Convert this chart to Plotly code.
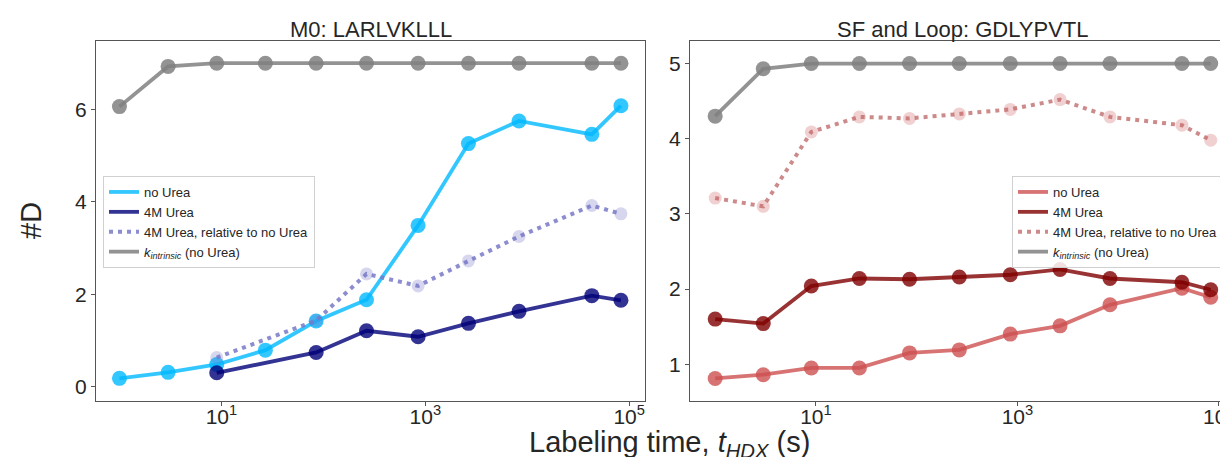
import plotly.graph_objects as go

# Labeling times (s)
times = [1, 3, 9, 27, 85, 265, 850, 2650, 8300, 43000, 83000]
times_urea_left = [9, 85, 265, 850, 2650, 8300, 43000, 83000]

# Left panel: M0: LARLVKLLL
left_no_urea = [0.18, 0.31, 0.48, 0.79, 1.42, 1.88, 3.49, 5.26, 5.75, 5.46, 6.08]
left_urea = [0.30, 0.74, 1.21, 1.08, 1.37, 1.63, 1.97, 1.87]
left_rel = [0.63, 1.43, 2.44, 2.18, 2.72, 3.25, 3.92, 3.74]
left_kint = [6.06, 6.93, 7.0, 7.0, 7.0, 7.0, 7.0, 7.0, 7.0, 7.0, 7.0]

# Right panel: SF and Loop: GDLYPVTL
right_no_urea = [0.81, 0.86, 0.95, 0.95, 1.15, 1.19, 1.40, 1.51, 1.79, 2.01, 1.89]
right_urea = [1.60, 1.54, 2.04, 2.14, 2.13, 2.16, 2.19, 2.26, 2.14, 2.09, 1.99]
right_rel = [3.21, 3.10, 4.09, 4.29, 4.27, 4.33, 4.39, 4.52, 4.29, 4.18, 3.98]
right_kint = [4.30, 4.93, 5.0, 5.0, 5.0, 5.0, 5.0, 5.0, 5.0, 5.0, 5.0]

titles = ["M0: LARLVKLLL", "SF and Loop: GDLYPVTL"]
legend_names = ["no Urea", "4M Urea", "4M Urea, relative to no Urea",
                "<i>k</i><sub><i>intrinsic</i></sub> (no Urea)"]

FONT = "Liberation Sans, Arial, sans-serif"
TXT = "#262626"
fig = go.Figure()


def add_panel(xa, ya, leg, series, colors):
    (x_a, y_a), (x_b, y_b), (x_c, y_c), (x_d, y_d) = series
    c_no, c_urea, c_rel_line, c_rel_mark, c_k = colors
    specs = [
        (x_a, y_a, c_no, 15, dict(color=c_no, width=3.8)),
        (x_b, y_b, c_urea, 15, dict(color=c_urea, width=3.8)),
        (x_c, y_c, c_rel_mark, 13, dict(color=c_rel_line, width=4, dash="4px,5px")),
        (x_d, y_d, c_k, 15, dict(color=c_k, width=3.8)),
    ]
    for name, (xs, ys, mc, ms, ln) in zip(legend_names, specs):
        fig.add_trace(go.Scatter(x=xs, y=ys, mode="lines+markers", name=name,
                                 line=ln, marker=dict(color=mc, size=ms),
                                 xaxis=xa, yaxis=ya, showlegend=False))
        # legend-only entry (line sample only, like the reference)
        fig.add_trace(go.Scatter(x=[None], y=[None], mode="lines", name=name,
                                 line=ln, xaxis=xa, yaxis=ya, legend=leg,
                                 showlegend=True))


add_panel("x", "y", "legend",
          [(times, left_no_urea), (times_urea_left, left_urea),
           (times_urea_left, left_rel), (times, left_kint)],
          ["rgba(0,185,255,0.8)", "rgba(0,0,120,0.8)", "rgba(120,120,200,0.85)",
           "rgba(120,120,200,0.3)", "rgba(128,128,128,0.85)"])
add_panel("x2", "y2", "legend2",
          [(times, right_no_urea), (times, right_urea),
           (times, right_rel), (times, right_kint)],
          ["rgba(205,80,80,0.8)", "rgba(128,0,0,0.8)", "rgba(200,125,125,0.9)",
           "rgba(205,100,100,0.3)", "rgba(128,128,128,0.85)"])

axis_common = dict(showline=True, linecolor="#555555", linewidth=1.2, mirror=True,
                   ticks="outside", ticklen=4, tickcolor="#555555", showgrid=False,
                   zeroline=False, automargin=False,
                   tickfont=dict(family=FONT, size=21, color=TXT))

xt = [10, 1000, 100000]
xtt = ["10<sup>1</sup>", "10<sup>3</sup>", "10<sup>5</sup>"]

L, R, T, B = 88, 0, 33, 64
PW, PH = 1228 - L - R, 457 - T - B
d_left = (0.0, (637 - L) / PW)
d_right = ((682 - L) / PW, 1.0)

legend_common = dict(xanchor="left", yanchor="top", y=(457 - B - 168) / PH,
                     bgcolor="rgba(255,255,255,0.85)", bordercolor="#d0d0d0", borderwidth=1,
                     font=dict(family=FONT, size=13, color=TXT),
                     tracegroupgap=0, itemwidth=30)

fig.update_layout(
    width=1228, height=457,
    margin=dict(l=L, r=R, t=T, b=B, autoexpand=False),
    paper_bgcolor="white", plot_bgcolor="white",
    font=dict(family=FONT, color=TXT),
    xaxis=dict(type="log", domain=d_left, range=[-0.23, 5.155],
               tickvals=xt, ticktext=xtt, ticklabelstandoff=-7, **axis_common),
    yaxis=dict(range=[-0.31, 7.48], tickvals=[0, 2, 4, 6], **axis_common),
    xaxis2=dict(type="log", domain=d_right, range=[-0.25, 5.17],
                tickvals=xt, ticktext=xtt, anchor="y2", ticklabelstandoff=-7, **axis_common),
    yaxis2=dict(range=[0.51, 5.30], tickvals=[1, 2, 3, 4, 5], anchor="x2", **axis_common),
    legend=dict(x=(95 - L) / PW, **legend_common),
    legend2=dict(x=(1004 - L) / PW, **legend_common),
    showlegend=True,
)

# Panel titles
for dom, t in zip([d_left, d_right], titles):
    fig.add_annotation(text=t, xref="paper", yref="paper",
                       x=(dom[0] + dom[1]) / 2, y=1.0, yshift=12,
                       xanchor="center", yanchor="middle", showarrow=False,
                       font=dict(family=FONT, size=22, color=TXT))

# Shared axis labels
fig.add_annotation(text="Labeling time, <i>t</i><sub><i>HDX</i></sub> (s)",
                   xref="paper", yref="paper", x=(661 - L) / PW, y=0, yshift=-43,
                   xanchor="center", yanchor="middle", showarrow=False,
                   font=dict(family=FONT, size=29, color=TXT))
fig.add_annotation(text="#D", xref="paper", yref="paper",
                   x=0, xshift=-65, y=(457 - B - 213) / PH, textangle=-90,
                   xanchor="center", yanchor="middle", showarrow=False,
                   font=dict(family=FONT, size=29, color=TXT))

fig.write_html("out.html")
